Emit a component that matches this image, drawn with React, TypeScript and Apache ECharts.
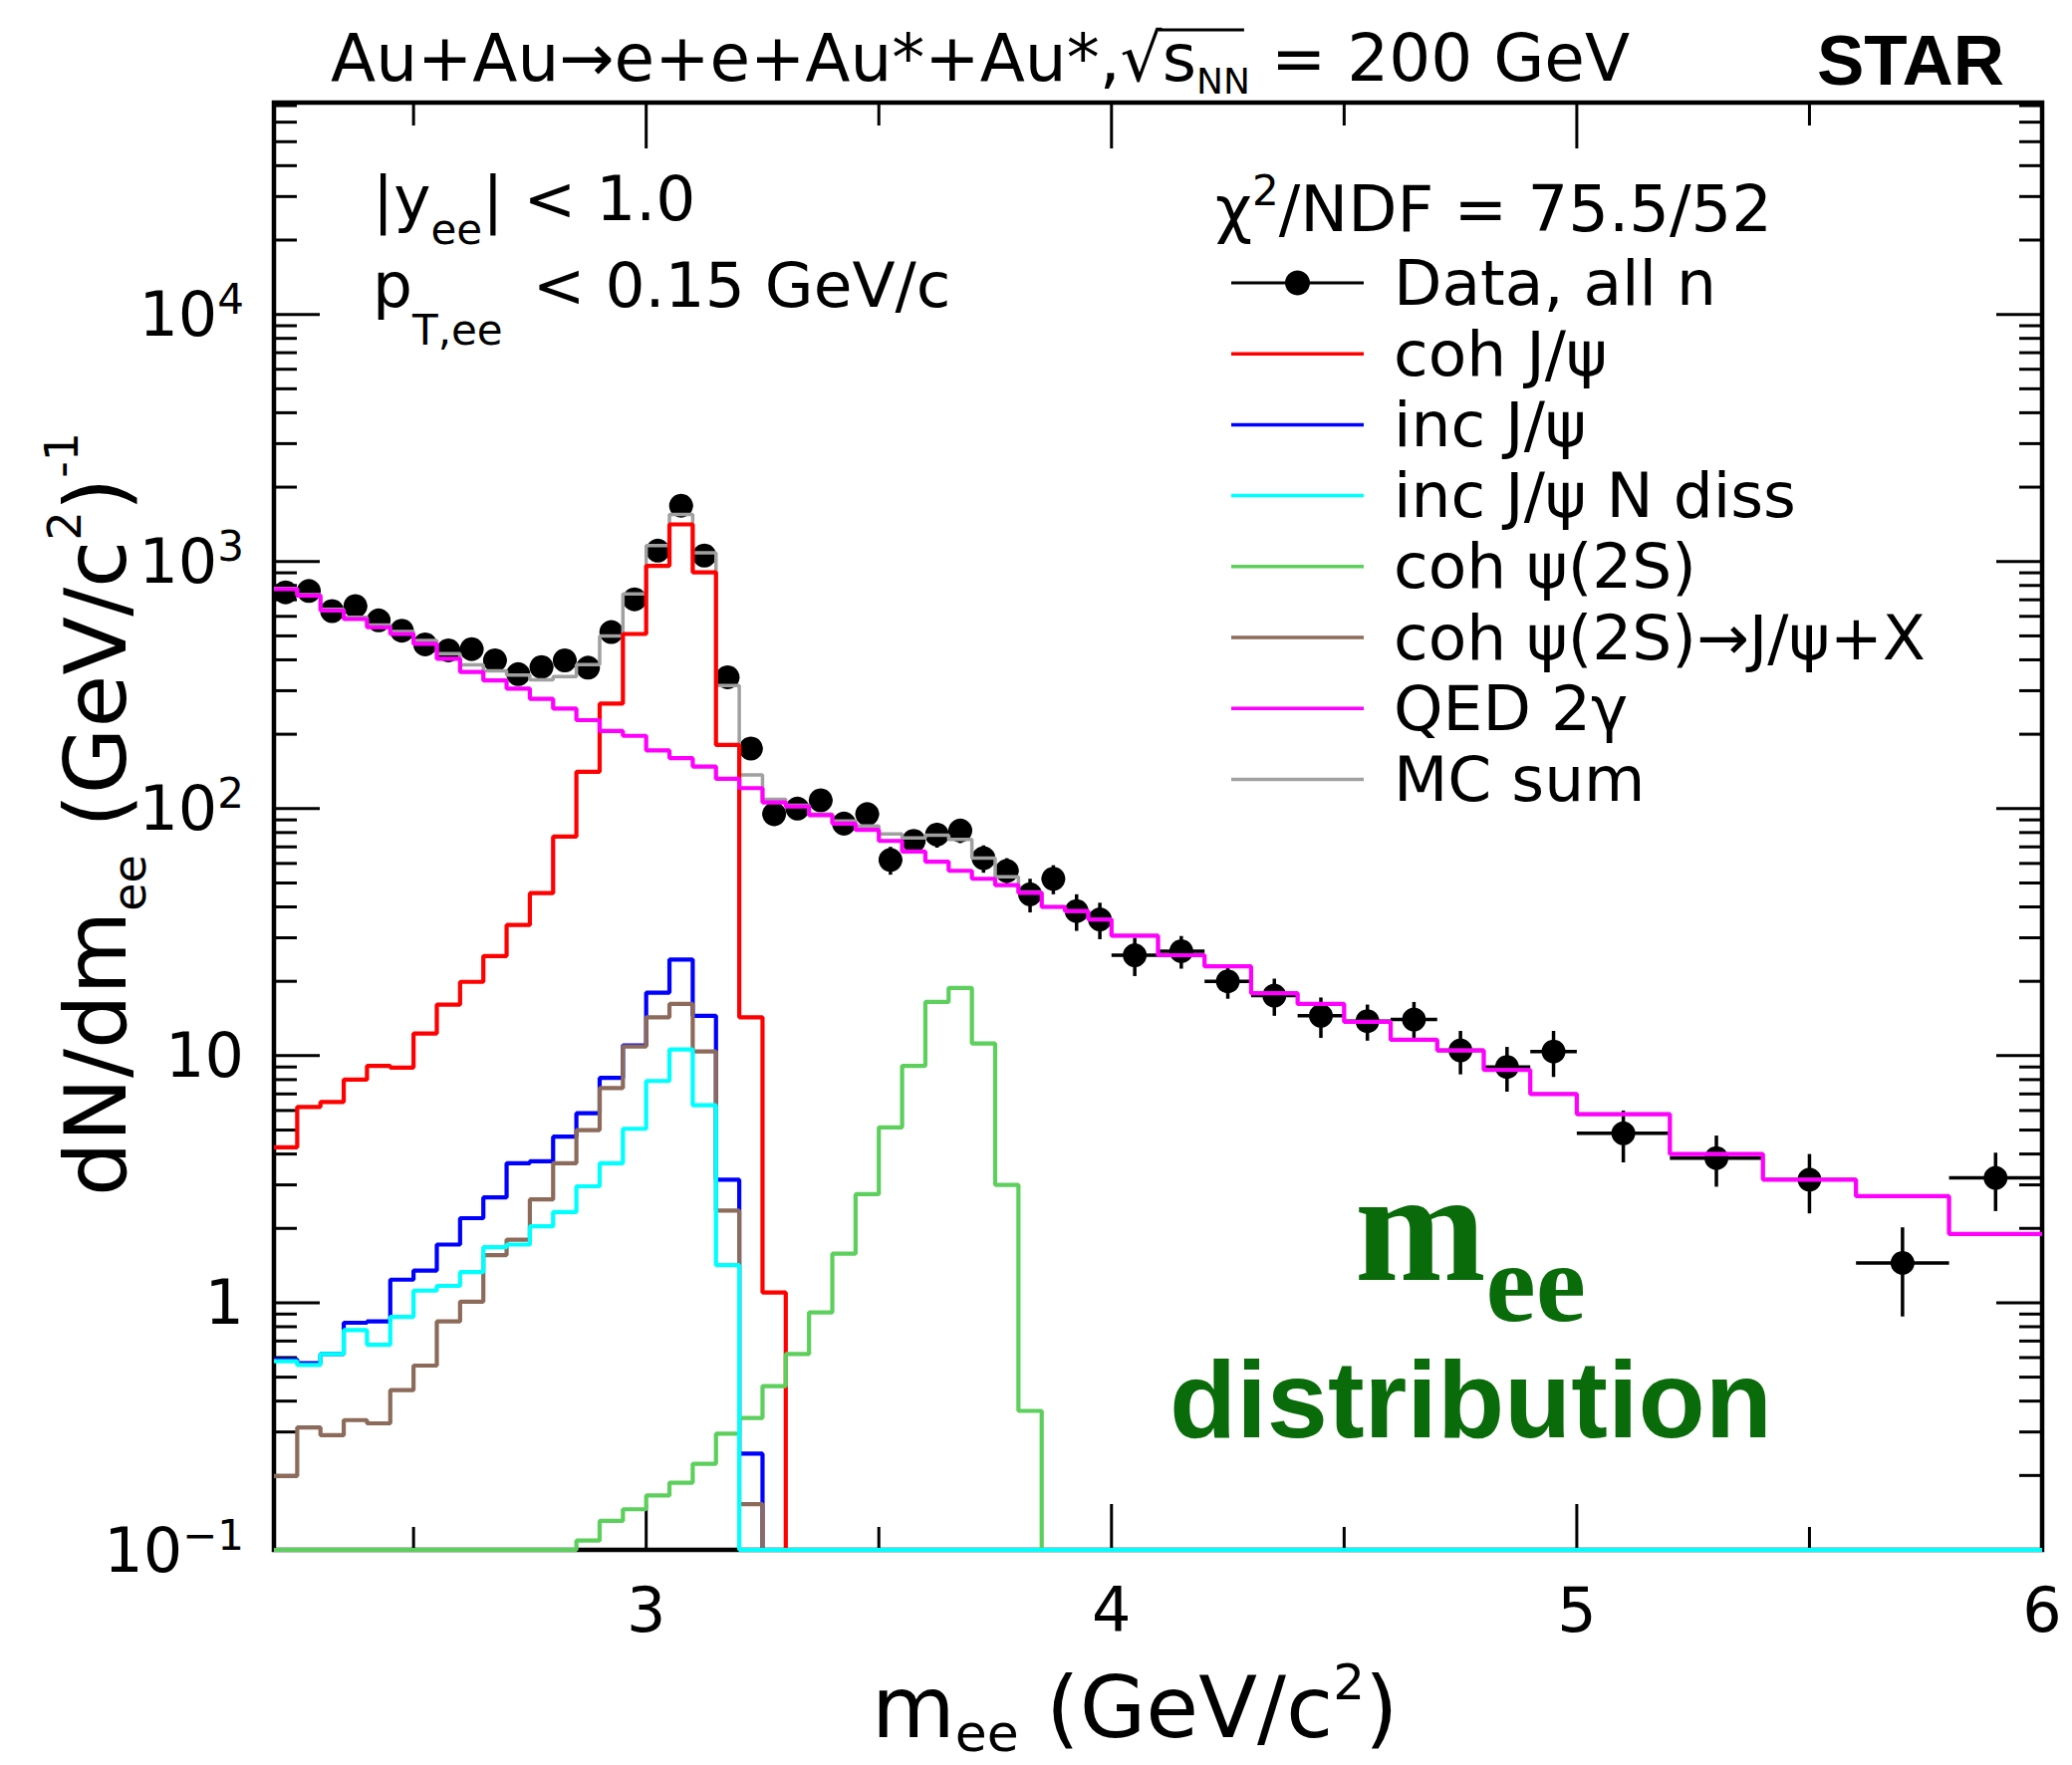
import React, { useEffect, useRef } from 'react';
import * as echarts from 'echarts';

const SANS = "'DejaVu Sans', sans-serif";
const ARIAL = "'Liberation Sans', Arial, sans-serif";
const SERIF = "'Liberation Serif', 'Times New Roman', serif";

// ---------------- data ----------------
const binEdges = [
  2.2, 2.25, 2.3, 2.35, 2.4, 2.45, 2.5, 2.55, 2.6, 2.65, 2.7, 2.75, 2.8, 2.85, 2.9, 2.95,
  3.0, 3.05, 3.1, 3.15, 3.2, 3.25, 3.3, 3.35, 3.4, 3.45, 3.5, 3.55, 3.6, 3.65, 3.7, 3.75,
  3.8, 3.85, 3.9, 3.95, 4.0, 4.1, 4.2, 4.3, 4.4, 4.5, 4.6, 4.7, 4.8, 4.9, 5.0, 5.2, 5.4,
  5.6, 5.8, 6.0,
];

const dataValues = [
  750, 760, 630, 660, 578, 525, 462, 437, 442, 398,
  350, 374, 398, 372, 518, 703, 1107, 1683, 1057, 340,
  175, 95, 100, 108, 87, 95, 62, 74, 78.5, 81.5,
  63, 56, 45, 52, 38.5, 35.6,
  25.5, 26.5, 20, 17.5, 14.5, 13.8, 14, 10.5, 9, 10.4,
  4.85, 3.85, 3.15, 1.45, 3.2,
];

const dataErrors = [
  25, 25, 23, 24, 22, 21, 20, 19, 19, 18,
  17, 18, 18, 18, 21, 25, 32, 40, 31, 17,
  12, 10, 10, 10, 9, 9, 8, 8, 9, 9,
  8, 7, 7, 7, 6.5, 6,
  4.5, 4.0, 3.0, 3.0, 2.7, 2.3, 2.5, 2.1, 1.85, 2.2,
  1.15, 0.9, 0.85, 0.57, 0.85,
];

const mcSum = [
  779, 735, 641, 595, 553, 521, 479, 424, 382, 361,
  347, 332, 342, 383, 500, 740, 1160, 1550, 1085, 315,
  137, 109, 103, 95, 89, 85, 79, 76, 78, 75,
  63, 53, 46, 40, 38.5, 35.6,
  30.6, 25.5, 23, 17.9, 16.2, 13.7, 11.6, 10.5, 8.75, 7.0,
  5.8, 4.0, 3.15, 2.7, 1.9,
];

const cohJpsi = [
  4.26, 6.2, 6.5, 8.0, 9.1, 8.95, 12.3, 16.1, 19.9, 25.3,
  33.8, 45.5, 77, 141, 266, 509, 961, 1413, 904, 181,
  14.3, 1.1, 0, 0, 0, 0, 0, 0, 0, 0,
  0, 0, 0, 0, 0, 0,
  0, 0, 0, 0, 0, 0, 0, 0, 0, 0,
  0, 0, 0, 0, 0,
];

const incJpsi = [
  0.59, 0.57, 0.62, 0.83, 0.84, 1.24, 1.35, 1.72, 2.2, 2.67,
  3.67, 3.74, 4.7, 5.85, 8.13, 11.0, 18.0, 24.5, 14.5, 3.15,
  0.245, 0, 0, 0, 0, 0, 0, 0, 0, 0,
  0, 0, 0, 0, 0, 0,
  0, 0, 0, 0, 0, 0, 0, 0, 0, 0,
  0, 0, 0, 0, 0,
];

const incJpsiNDiss = [
  0.58, 0.56, 0.62, 0.775, 0.676, 0.877, 1.12, 1.17, 1.33, 1.68,
  1.72, 2.04, 2.33, 2.96, 3.67, 5.06, 7.9, 10.6, 6.3, 1.42,
  0, 0, 0, 0, 0, 0, 0, 0, 0, 0,
  0, 0, 0, 0, 0, 0,
  0, 0, 0, 0, 0, 0, 0, 0, 0, 0,
  0, 0, 0, 0, 0,
];

const cohPsi2S = [
  0, 0, 0, 0, 0, 0, 0, 0, 0, 0,
  0, 0, 0, 0.109, 0.131, 0.146, 0.166, 0.187, 0.223, 0.295,
  0.342, 0.46, 0.62, 0.914, 1.58, 2.75, 5.13, 9.1, 16.5, 18.8,
  11.2, 3.0, 0.365, 0, 0, 0,
  0, 0, 0, 0, 0, 0, 0, 0, 0, 0,
  0, 0, 0, 0, 0,
];

const cohPsi2SToJpsi = [
  0.199, 0.313, 0.291, 0.335, 0.325, 0.443, 0.557, 0.84, 1.01, 1.56,
  1.8, 2.62, 3.67, 5.0, 7.4, 10.9, 14.3, 16.2, 10.4, 2.36,
  0.153, 0, 0, 0, 0, 0, 0, 0, 0, 0,
  0, 0, 0, 0, 0, 0,
  0, 0, 0, 0, 0, 0, 0, 0, 0, 0,
  0, 0, 0, 0, 0,
];

const qed2gamma = [
  773, 728, 633, 585, 542, 509, 464, 404, 357, 330,
  306, 278, 254, 228, 206, 197, 172, 160, 148, 132,
  121, 106, 102, 94, 87, 82, 74, 67, 61, 56,
  52, 49, 45.6, 40, 38.5, 35.6,
  30.6, 25.5, 23, 17.9, 16.2, 13.7, 11.6, 10.5, 8.75, 7.0,
  5.8, 4.0, 3.15, 2.7, 1.9,
];

const xLabelValues = [3, 4, 5, 6];
const xMinorTickValues = [2.5, 3.5, 4.5, 5.5];
const yLabelValues = [0.1, 1, 10, 100, 1000, 10000];

const X_MIN = 2.2;
const X_MAX = 6;
const Y_MIN = 0.1;
const Y_MAX = 72000;

const legendNames = [
  'Data, all n', 'coh J/ψ', 'inc J/ψ', 'inc J/ψ N diss',
  'coh ψ(2S)', 'coh ψ(2S)→J/ψ+X', 'QED 2γ', 'MC sum',
];
const legendColors = ['#000000', '#ff0000', '#0000ff', '#00ffff', '#5ccf5c', '#8c6b5b', '#ff00ff', '#a0a0a0'];

// ---------------- helpers ----------------
let measureCtx: CanvasRenderingContext2D | null = null;
function textWidth(t: string, size: number, family: string, weight: string) {
  if (!measureCtx) measureCtx = document.createElement('canvas').getContext('2d');
  measureCtx!.font = `${weight} ${size}px ${family}`;
  return measureCtx!.measureText(t).width;
}

interface Seg { t: string; s: number; dy?: number; gap?: number; family?: string; weight?: string }
function textRun(x0: number, baseline: number, segs: Seg[], fill = '#000') {
  const els: any[] = [];
  const xs: number[] = [];
  let x = x0;
  for (const g of segs) {
    x += g.gap ?? 0;
    const fam = g.family ?? SANS;
    const wt = g.weight ?? 'normal';
    xs.push(x);
    els.push({
      type: 'text',
      x,
      y: baseline + (g.dy ?? 0) - 0.35 * g.s,
      silent: true,
      style: {
        text: g.t, fill, font: `${wt} ${g.s}px ${fam}`,
        textAlign: 'left', textVerticalAlign: 'middle', align: 'left', verticalAlign: 'middle',
      },
    });
    x += textWidth(g.t, g.s, fam, wt);
  }
  xs.push(x);
  return { els, xs, width: x - x0 };
}

function stepData(vals: number[]) {
  const pts: number[][] = vals.map((v, i) => [binEdges[i], Math.max(v, Y_MIN)]);
  pts.push([binEdges[vals.length], Math.max(vals[vals.length - 1], Y_MIN)]);
  return pts;
}

function buildOption() {
  // histogram series, in drawing order
  const histos = [
    { name: 'MC sum', vals: mcSum, color: legendColors[7], w: 3.5 },
    { name: 'coh J/ψ', vals: cohJpsi, color: legendColors[1], w: 4.2 },
    { name: 'inc J/ψ', vals: incJpsi, color: legendColors[2], w: 4.2 },
    { name: 'coh ψ(2S)→J/ψ+X', vals: cohPsi2SToJpsi, color: legendColors[5], w: 4.2 },
    { name: 'coh ψ(2S)', vals: cohPsi2S, color: legendColors[4], w: 4.2 },
    { name: 'inc J/ψ N diss', vals: incJpsiNDiss, color: legendColors[3], w: 4.2 },
    { name: 'QED 2γ', vals: qed2gamma, color: legendColors[6], w: 4.2 },
  ];

  const centers = dataValues.map((_, i) => (binEdges[i] + binEdges[i + 1]) / 2);
  const errRows = dataValues.map((v, i) => [
    centers[i], v, v - dataErrors[i], v + dataErrors[i], binEdges[i], binEdges[i + 1],
  ]);

  // tick rows
  const yMinor: number[] = [];
  for (const d of yLabelValues) for (let k = 2; k <= 9; k++) if (k * d < Y_MAX) yMinor.push(k * d);
  const yTickRows = [
    ...yLabelValues.map((v) => [X_MIN, v, 1]),
    ...yMinor.map((v) => [X_MIN, v, 0]),
  ];
  const xTickRows = [
    ...xLabelValues.map((v) => [v, Y_MIN, 1]),
    ...xMinorTickValues.map((v) => [v, Y_MIN, 0]),
  ];

  const graphic: any[] = [];

  // title
  const t = textRun(332, 82, [
    { t: 'Au+Au→e+e+Au*+Au*,', s: 66 },
    { t: '√', s: 66 },
    { t: 's', s: 66 },
    { t: 'NN', s: 36, dy: 12 },
    { t: ' = 200 GeV', s: 66 },
  ]);
  graphic.push(...t.els);
  graphic.push({
    type: 'line', silent: true,
    shape: { x1: t.xs[2] - 4, y1: 82 - 52, x2: t.xs[4] - 6, y2: 82 - 52 },
    style: { stroke: '#000', lineWidth: 3 },
  });
  graphic.push(...textRun(1824, 85, [{ t: 'STAR', s: 71, family: ARIAL, weight: 'bold' }]).els);

  // cuts text
  graphic.push(...textRun(374, 222, [
    { t: '|y', s: 63 }, { t: 'ee', s: 42, dy: 23 }, { t: '|', s: 63 }, { t: ' < 1.0', s: 63 },
  ]).els);
  graphic.push(...textRun(374, 309, [
    { t: 'p', s: 63 }, { t: 'T,ee', s: 42, dy: 37 }, { t: ' < 0.15 GeV/c', s: 63, gap: 10 },
  ]).els);

  // legend
  graphic.push(...textRun(1220, 232, [
    { t: 'χ', s: 64 }, { t: '2', s: 42, dy: -26 }, { t: '/NDF = 75.5/52', s: 64 },
  ]).els);
  legendNames.forEach((name, i) => {
    const y = 284 + 71.2 * i;
    graphic.push({
      type: 'line', silent: true,
      shape: { x1: 1236, y1: y, x2: 1369, y2: y },
      style: { stroke: legendColors[i], lineWidth: i === 0 ? 3 : 3.5 },
    });
    if (i === 0) {
      graphic.push({ type: 'circle', silent: true, shape: { cx: 1302.5, cy: y, r: 12.5 }, style: { fill: '#000' } });
    }
    graphic.push(...textRun(1399, y + 0.35 * 63, [{ t: name, s: 63 }]).els);
  });

  // axis titles
  graphic.push(...textRun(875, 1744, [
    { t: 'm', s: 86 }, { t: 'ee', s: 52, dy: 14 }, { t: ' (GeV/c', s: 86 },
    { t: '2', s: 50, dy: -38 }, { t: ')', s: 86 },
  ]).els);
  const yt = textRun(0, 0, [
    { t: 'dN/dm', s: 86 }, { t: 'ee', s: 46, dy: 20 }, { t: ' (GeV/c', s: 86 },
    { t: '2', s: 46, dy: -45 }, { t: ')', s: 86 }, { t: '-1', s: 46, dy: -48 },
  ]);
  graphic.push({ type: 'group', x: 126, y: 1201, rotation: Math.PI / 2, children: yt.els });

  // annotation
  const green = '#0a6b0a';
  graphic.push(...textRun(1360, 1287, [
    { t: 'm', s: 158, family: SERIF, weight: 'bold' },
    { t: 'ee', s: 113, family: SERIF, weight: 'bold', dy: 40 },
  ], green).els);
  graphic.push(...textRun(1174, 1443, [
    { t: 'distribution', s: 110, family: ARIAL, weight: 'bold' },
  ], green).els);

  const tickStyle = { stroke: '#000', lineWidth: 3 };

  return {
    animation: false,
    backgroundColor: '#ffffff',
    grid: {
      left: 275, top: 103, width: 1775, height: 1453,
      show: true, borderColor: '#000', borderWidth: 4.5, backgroundColor: 'transparent',
    },
    xAxis: {
      type: 'value', min: X_MIN, max: X_MAX,
      axisLine: { show: false }, axisTick: { show: false }, splitLine: { show: false },
      axisLabel: {
        customValues: xLabelValues, showMinLabel: true, showMaxLabel: true,
        margin: 29, color: '#000', fontFamily: SANS, fontSize: 62,
        formatter: (v: number) => String(Math.round(v)),
      },
    },
    yAxis: {
      type: 'log', logBase: 10, min: Y_MIN, max: Y_MAX, splitNumber: 6,
      axisLine: { show: false }, axisTick: { show: false }, splitLine: { show: false },
      axisLabel: {
        customValues: yLabelValues,
        margin: 30, color: '#000', fontFamily: SANS, fontSize: 62,
        formatter: (v: number) => {
          const l = Math.log10(v);
          const e = Math.round(l);
          if (Math.abs(l - e) > 1e-6) return '';
          if (e === 0) return '1';
          if (e === 1) return '10';
          return `{b|10}{sup|${e < 0 ? '−' : ''}${Math.abs(e)}}`;
        },
        rich: {
          b: { fontFamily: SANS, fontSize: 62, color: '#000', lineHeight: 72 },
          sup: { fontFamily: SANS, fontSize: 42, color: '#000', verticalAlign: 'top', lineHeight: 44 },
        },
      },
    },
    graphic,
    series: [
      {
        type: 'custom', name: 'yTicks', silent: true, data: yTickRows, encode: { x: 0, y: 1 },
        renderItem: (params: any, api: any) => {
          const cs = params.coordSys;
          const p = api.coord([api.value(0), api.value(1)]);
          const L = api.value(2) ? 46 : 23;
          return {
            type: 'group', children: [
              { type: 'line', shape: { x1: cs.x, y1: p[1], x2: cs.x + L, y2: p[1] }, style: tickStyle },
              { type: 'line', shape: { x1: cs.x + cs.width, y1: p[1], x2: cs.x + cs.width - L, y2: p[1] }, style: tickStyle },
            ],
          };
        },
      },
      {
        type: 'custom', name: 'xTicks', silent: true, data: xTickRows, encode: { x: 0, y: 1 },
        renderItem: (params: any, api: any) => {
          const cs = params.coordSys;
          const p = api.coord([api.value(0), api.value(1)]);
          const L = api.value(2) ? 46 : 23;
          const b = cs.y + cs.height;
          return {
            type: 'group', children: [
              { type: 'line', shape: { x1: p[0], y1: b, x2: p[0], y2: b - L }, style: tickStyle },
              { type: 'line', shape: { x1: p[0], y1: cs.y, x2: p[0], y2: cs.y + L }, style: tickStyle },
            ],
          };
        },
      },
      ...histos.map((h) => ({
        type: 'line', name: h.name, data: stepData(h.vals), step: 'end',
        symbol: 'none', silent: true, clip: false,
        lineStyle: { color: h.color, width: h.w },
        itemStyle: { color: h.color },
      })),
      {
        type: 'custom', name: 'Data errors', silent: true, data: errRows, encode: { x: 0, y: 1 },
        renderItem: (params: any, api: any) => {
          const c = api.coord([api.value(0), api.value(1)]);
          const lo = api.coord([api.value(0), api.value(2)]);
          const hi = api.coord([api.value(0), api.value(3)]);
          const l = api.coord([api.value(4), api.value(1)]);
          const r = api.coord([api.value(5), api.value(1)]);
          const st = { stroke: '#000', lineWidth: 3.5 };
          return {
            type: 'group', children: [
              { type: 'line', shape: { x1: c[0], y1: lo[1], x2: c[0], y2: hi[1] }, style: st },
              { type: 'line', shape: { x1: l[0], y1: c[1], x2: r[0], y2: c[1] }, style: st },
            ],
          };
        },
      },
      {
        type: 'scatter', name: 'Data, all n', silent: true,
        data: dataValues.map((v, i) => [centers[i], v]),
        symbol: 'circle', symbolSize: 24, itemStyle: { color: '#000', opacity: 1 },
      },
    ],
  };
}

export default function App() {
  const ref = useRef<HTMLDivElement>(null);
  useEffect(() => {
    const chart = echarts.init(ref.current!, null, { renderer: 'svg' });
    chart.setOption(buildOption() as any);
    return () => chart.dispose();
  }, []);
  return (
    <div
      ref={ref}
      style={{ position: 'absolute', left: 0, top: 0, width: 2080, height: 1772, background: '#fff' }}
    />
  );
}
